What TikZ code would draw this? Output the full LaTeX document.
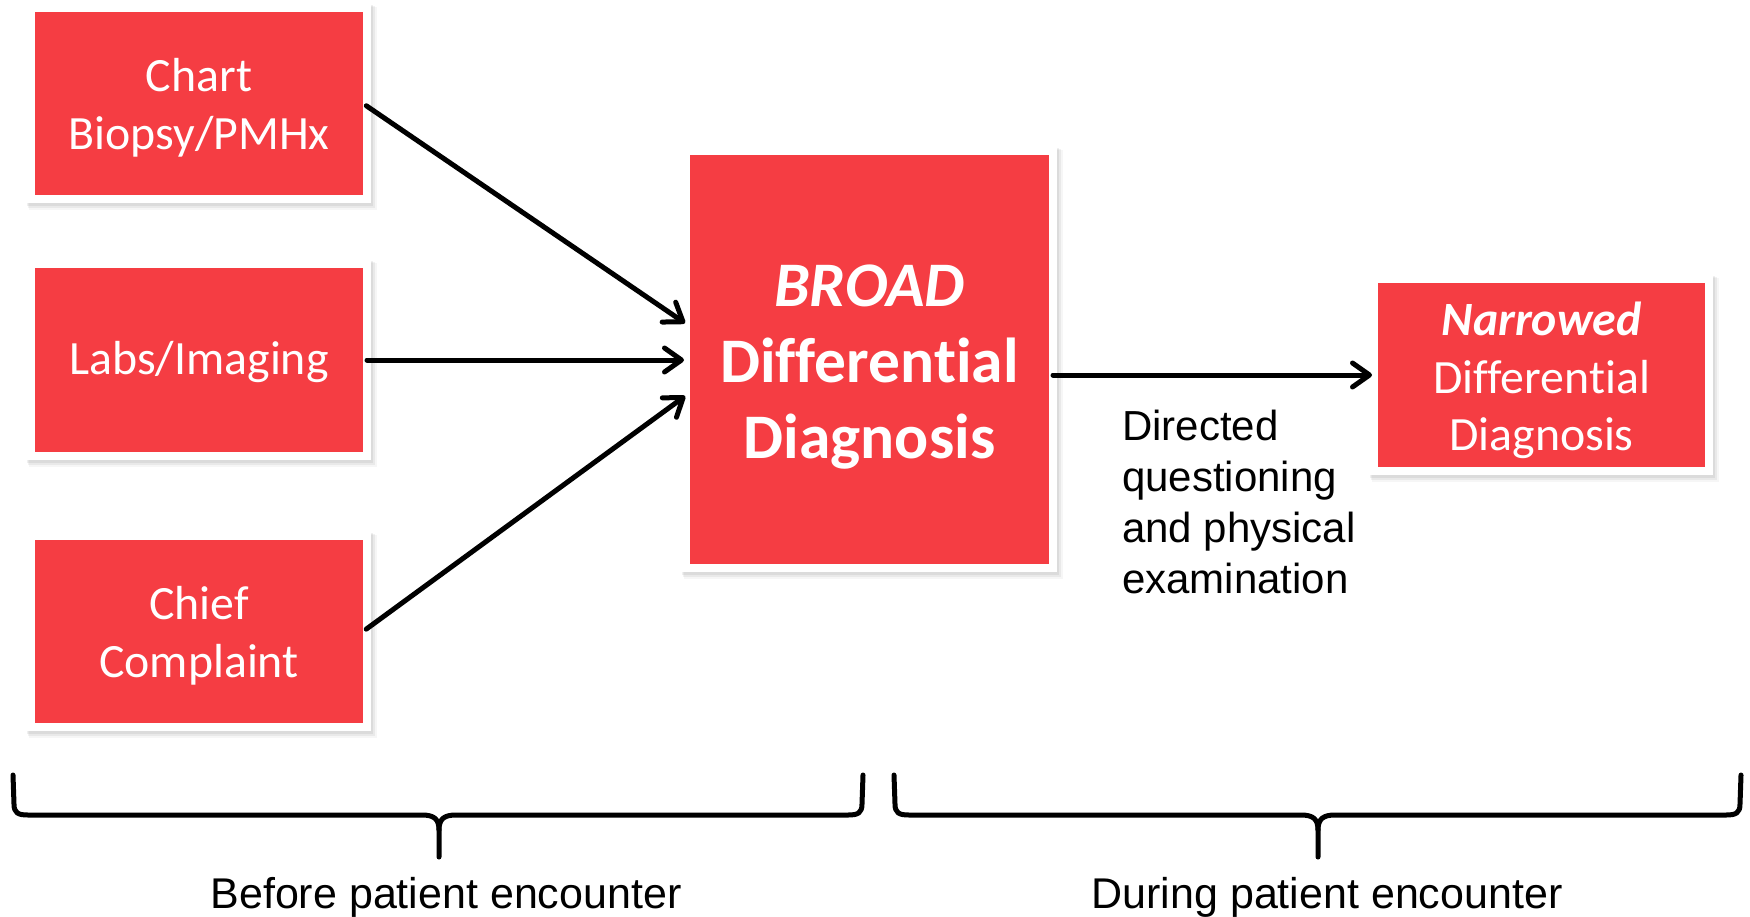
\documentclass[tikz,border=0pt]{standalone}
\usepackage{fontspec}
\newfontfamily\carlito[Ligatures=NoCommon]{Carlito}
\newfontfamily\arialf{Liberation Sans}
\usetikzlibrary{arrows.meta,backgrounds}
\definecolor{boxred}{RGB}{245,61,67}
\tikzset{
  redbox/.style={fill=boxred, inner sep=0pt, outer sep=0pt},
  boxtext/.style={text=white, align=center, inner sep=0pt,
    font=\carlito\fontsize{47.8}{58}\selectfont},
  arr/.style={line width=5pt, line cap=round, -{Straight Barb[length=17pt,width=24pt,line cap=round,line join=round]}, shorten <=4pt, shorten >=6pt},
  bracestyle/.style={line width=5pt, line cap=round, line join=round},
  plaintext/.style={font=\arialf\fontsize{42}{51}\selectfont, inner sep=0pt, text=black}
}
\newcommand\myboxframe[1]{%
  \fill[black, opacity=0.035] ([shift={(-6,-5)}]#1.north west) rectangle ([shift={(14,15)}]#1.south east);
  \fill[black, opacity=0.05] ([shift={(-7,-6)}]#1.north west) rectangle ([shift={(12,13)}]#1.south east);
  \fill[black, opacity=0.06] ([shift={(-8,-7)}]#1.north west) rectangle ([shift={(10,11)}]#1.south east);
  \fill[white] ([shift={(-8,-8)}]#1.north west) rectangle ([shift={(8,8)}]#1.south east);
}
\begin{document}
\begin{tikzpicture}[x=1pt,y=-1pt]
\useasboundingbox (0,0) rectangle (1750,916);

\node[redbox, minimum width=328pt, minimum height=183pt] (chart) at (199,103.5) {};
\node[redbox, minimum width=328pt, minimum height=184pt] (labs) at (199,360) {};
\node[redbox, minimum width=328pt, minimum height=183pt] (chief) at (199,631.5) {};
\node[redbox, minimum width=359pt, minimum height=409pt] (broad) at (869.5,359.5) {};
\node[redbox, minimum width=327pt, minimum height=184pt] (narrow) at (1541.5,375) {};

\node[boxtext] (chartT) at ([yshift=-4pt]chart.center) {Chart\\Biopsy/PMHx};
\node[boxtext] (labsT) at ([yshift=-2.5pt]labs.center) {Labs/Imaging};
\node[boxtext] (chiefT) at ([yshift=-4pt]chief.center) {Chief\\Complaint};
\node[boxtext, font=\carlito\bfseries\fontsize{63.5}{76}\selectfont] (broadT) at ([yshift=-8pt]broad.center) {\textit{BROAD}\\Differential\\Diagnosis};
\node[boxtext, font=\carlito\fontsize{47.8}{57.5}\selectfont] (narrowT) at ([yshift=-5.5pt]narrow.center) {\textbf{\textit{Narrowed}}\\Differential\\Diagnosis};

\begin{scope}[on background layer]
  \fill[white] (0,0) rectangle (1750,916);
  \myboxframe{chart}
  \myboxframe{labs}
  \myboxframe{chief}
  \myboxframe{broad}
  \myboxframe{narrow}
\end{scope}

\draw[arr] (chart.east) -- ([yshift=33pt]broad.west);
\draw[arr] (labs.east) -- (labs.east -| broad.west);
\draw[arr] (chief.east) -- ([yshift=-33pt]broad.west);
\draw[arr] (broad.east |- narrow.west) -- (narrow.west);

\node[plaintext, align=left, anchor=north west] (directed) at (1122,410) {Directed\\questioning\\and physical\\examination};

% braces
\coordinate (lbL) at (13,775);
\coordinate (lbR) at (863,775);
\coordinate (lbT) at (439,857);
\draw[bracestyle] (lbL) .. controls (14,790) .. (14,804) .. controls (14,813) and (18,815) .. (28,815) -- (422,815) .. controls (434,815) and (439,819) .. (439,830) -- (lbT);
\draw[bracestyle] (lbR) .. controls (862,790) .. (862,804) .. controls (862,813) and (858,815) .. (848,815) -- (456,815) .. controls (444,815) and (439,819) .. (439,830);

\coordinate (rbL) at (894,775);
\coordinate (rbR) at (1741,775);
\coordinate (rbT) at (1318,857);
\draw[bracestyle] (rbL) .. controls (895,790) .. (895,804) .. controls (895,813) and (899,815) .. (909,815) -- (1301,815) .. controls (1313,815) and (1318,819) .. (1318,830) -- (rbT);
\draw[bracestyle] (rbR) .. controls (1740,790) .. (1740,804) .. controls (1740,813) and (1736,815) .. (1726,815) -- (1335,815) .. controls (1323,815) and (1318,819) .. (1318,830);

\node[plaintext, font=\arialf\fontsize{43}{51}\selectfont, anchor=base] (before) at (446,908) {Before patient encounter};
\node[plaintext, font=\arialf\fontsize{43}{51}\selectfont, anchor=base] (during) at (1327,908) {During patient encounter};
\end{tikzpicture}
\end{document}
